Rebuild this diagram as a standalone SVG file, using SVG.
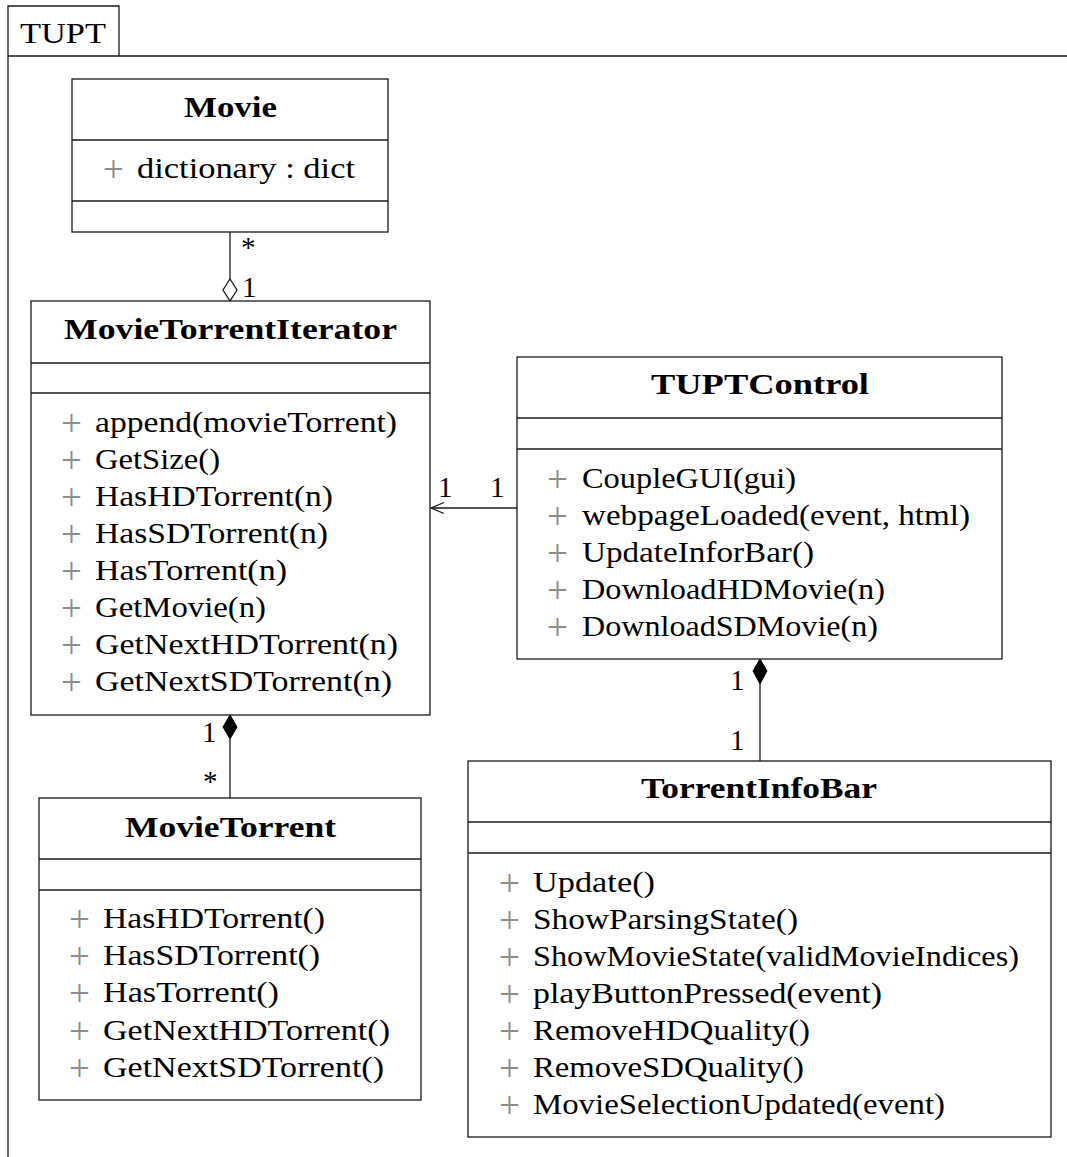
<svg xmlns="http://www.w3.org/2000/svg" width="1067" height="1157" viewBox="0 0 1067 1157">
  <style>
    .box { fill: #fff; stroke: #1a1a1a; stroke-width: 1.3; }
    .div { stroke: #1a1a1a; stroke-width: 1.3; }
    .edge { stroke: #1a1a1a; stroke-width: 1.3; fill: none; }
    .t { font-family: "Liberation Serif", "Times New Roman", serif; font-size: 29px; fill: #000; }
    .b { font-weight: bold; }
    .p { font-family: "Liberation Serif", "Times New Roman", serif; font-size: 37px; fill: #8c8c8c; }
  </style>

  <rect width="1067" height="1157" fill="#fff"/>

  <!-- package frame -->
  <g id="frame">
    <path class="edge" d="M8,1157 V6 H119 V56 M8,56 H1067"/>
    <text class="t" x="20" y="43" textLength="86" lengthAdjust="spacingAndGlyphs">TUPT</text>
  </g>

  <!-- connectors -->
  <g id="connectors">
    <!-- Movie * —◇ 1 MovieTorrentIterator -->
    <line class="edge" x1="230" y1="232" x2="230" y2="279"/>
    <path d="M230,279 L237,290 L230,301 L223,290 Z" fill="#fff" stroke="#1a1a1a" stroke-width="1.3"/>
    <text class="t" x="241" y="257">*</text>
    <text class="t" x="242" y="297">1</text>

    <!-- TUPTControl 1 → 1 MovieTorrentIterator -->
    <line class="edge" x1="517" y1="508" x2="431" y2="508"/>
    <path class="edge" d="M444,502.5 L431,508 L444,513.5"/>
    <text class="t" x="438" y="497">1</text>
    <text class="t" x="490" y="497">1</text>

    <!-- MovieTorrentIterator 1 ◆— * MovieTorrent -->
    <path d="M230,715 L237,727 L230,739 L223,727 Z" fill="#000" stroke="#000" stroke-width="1"/>
    <line class="edge" x1="230" y1="739" x2="230" y2="798"/>
    <text class="t" x="202" y="742">1</text>
    <text class="t" x="203" y="791">*</text>

    <!-- TUPTControl 1 ◆— 1 TorrentInfoBar -->
    <path d="M760,659 L767,671 L760,684 L753,671 Z" fill="#000" stroke="#000" stroke-width="1"/>
    <line class="edge" x1="760" y1="684" x2="760" y2="761"/>
    <text class="t" x="730" y="690">1</text>
    <text class="t" x="730" y="750">1</text>
  </g>

  <!-- Movie -->
  <g id="movie">
    <rect class="box" x="72" y="79" width="316" height="153"/>
    <line class="div" x1="72" y1="140" x2="388" y2="140"/>
    <line class="div" x1="72" y1="201" x2="388" y2="201"/>
    <text class="t b" x="184" y="117" textLength="93" lengthAdjust="spacingAndGlyphs">Movie</text>
    <text class="p" x="103" y="182">+</text>
    <text class="t" x="137" y="178" textLength="218" lengthAdjust="spacingAndGlyphs">dictionary : dict</text>
  </g>

  <!-- MovieTorrentIterator -->
  <g id="movie-torrent-iterator">
    <rect class="box" x="31" y="301" width="399" height="414"/>
    <line class="div" x1="31" y1="363" x2="430" y2="363"/>
    <line class="div" x1="31" y1="393" x2="430" y2="393"/>
    <text class="t b" x="64" y="339" textLength="333" lengthAdjust="spacingAndGlyphs">MovieTorrentIterator</text>
    <g class="p">
      <text x="61" y="435.5">+</text>
      <text x="61" y="472.5">+</text>
      <text x="61" y="509.5">+</text>
      <text x="61" y="546.5">+</text>
      <text x="61" y="583.5">+</text>
      <text x="61" y="620.5">+</text>
      <text x="61" y="657.5">+</text>
      <text x="61" y="694.5">+</text>
    </g>
    <g class="t">
      <text x="95" y="432" textLength="302" lengthAdjust="spacingAndGlyphs">append(movieTorrent)</text>
      <text x="95" y="469" textLength="125" lengthAdjust="spacingAndGlyphs">GetSize()</text>
      <text x="95" y="506" textLength="238" lengthAdjust="spacingAndGlyphs">HasHDTorrent(n)</text>
      <text x="95" y="543" textLength="233" lengthAdjust="spacingAndGlyphs">HasSDTorrent(n)</text>
      <text x="95" y="580" textLength="192" lengthAdjust="spacingAndGlyphs">HasTorrent(n)</text>
      <text x="95" y="617" textLength="171" lengthAdjust="spacingAndGlyphs">GetMovie(n)</text>
      <text x="95" y="654" textLength="303" lengthAdjust="spacingAndGlyphs">GetNextHDTorrent(n)</text>
      <text x="95" y="691" textLength="297" lengthAdjust="spacingAndGlyphs">GetNextSDTorrent(n)</text>
    </g>
  </g>

  <!-- TUPTControl -->
  <g id="tupt-control">
    <rect class="box" x="517" y="357" width="485" height="302"/>
    <line class="div" x1="517" y1="418" x2="1002" y2="418"/>
    <line class="div" x1="517" y1="449" x2="1002" y2="449"/>
    <text class="t b" x="651" y="394" textLength="218" lengthAdjust="spacingAndGlyphs">TUPTControl</text>
    <g class="p">
      <text x="547" y="491.5">+</text>
      <text x="547" y="528.5">+</text>
      <text x="547" y="565.5">+</text>
      <text x="547" y="602.5">+</text>
      <text x="547" y="639.5">+</text>
    </g>
    <g class="t">
      <text x="582" y="488" textLength="214" lengthAdjust="spacingAndGlyphs">CoupleGUI(gui)</text>
      <text x="582" y="525" textLength="388" lengthAdjust="spacingAndGlyphs">webpageLoaded(event, html)</text>
      <text x="582" y="562" textLength="232" lengthAdjust="spacingAndGlyphs">UpdateInforBar()</text>
      <text x="582" y="599" textLength="303" lengthAdjust="spacingAndGlyphs">DownloadHDMovie(n)</text>
      <text x="582" y="636" textLength="296" lengthAdjust="spacingAndGlyphs">DownloadSDMovie(n)</text>
    </g>
  </g>

  <!-- MovieTorrent -->
  <g id="movie-torrent">
    <rect class="box" x="39" y="798" width="382" height="302"/>
    <line class="div" x1="39" y1="859" x2="421" y2="859"/>
    <line class="div" x1="39" y1="890" x2="421" y2="890"/>
    <text class="t b" x="125" y="837" textLength="211" lengthAdjust="spacingAndGlyphs">MovieTorrent</text>
    <g class="p">
      <text x="69" y="931.5">+</text>
      <text x="69" y="968.5">+</text>
      <text x="69" y="1005.5">+</text>
      <text x="69" y="1043.5">+</text>
      <text x="69" y="1080.5">+</text>
    </g>
    <g class="t">
      <text x="103" y="928" textLength="222" lengthAdjust="spacingAndGlyphs">HasHDTorrent()</text>
      <text x="103" y="965" textLength="217" lengthAdjust="spacingAndGlyphs">HasSDTorrent()</text>
      <text x="103" y="1002" textLength="176" lengthAdjust="spacingAndGlyphs">HasTorrent()</text>
      <text x="103" y="1040" textLength="287" lengthAdjust="spacingAndGlyphs">GetNextHDTorrent()</text>
      <text x="103" y="1077" textLength="281" lengthAdjust="spacingAndGlyphs">GetNextSDTorrent()</text>
    </g>
  </g>

  <!-- TorrentInfoBar -->
  <g id="torrent-info-bar">
    <rect class="box" x="468" y="761" width="583" height="376"/>
    <line class="div" x1="468" y1="822" x2="1051" y2="822"/>
    <line class="div" x1="468" y1="853" x2="1051" y2="853"/>
    <text class="t b" x="641" y="798" textLength="236" lengthAdjust="spacingAndGlyphs">TorrentInfoBar</text>
    <g class="p">
      <text x="499" y="895.5">+</text>
      <text x="499" y="932.5">+</text>
      <text x="499" y="969.5">+</text>
      <text x="499" y="1006.5">+</text>
      <text x="499" y="1043.5">+</text>
      <text x="499" y="1080.5">+</text>
      <text x="499" y="1117.5">+</text>
    </g>
    <g class="t">
      <text x="533" y="892" textLength="122" lengthAdjust="spacingAndGlyphs">Update()</text>
      <text x="533" y="929" textLength="265" lengthAdjust="spacingAndGlyphs">ShowParsingState()</text>
      <text x="533" y="966" textLength="486" lengthAdjust="spacingAndGlyphs">ShowMovieState(validMovieIndices)</text>
      <text x="533" y="1003" textLength="349" lengthAdjust="spacingAndGlyphs">playButtonPressed(event)</text>
      <text x="533" y="1040" textLength="277" lengthAdjust="spacingAndGlyphs">RemoveHDQuality()</text>
      <text x="533" y="1077" textLength="271" lengthAdjust="spacingAndGlyphs">RemoveSDQuality()</text>
      <text x="533" y="1114" textLength="412" lengthAdjust="spacingAndGlyphs">MovieSelectionUpdated(event)</text>
    </g>
  </g>
</svg>
